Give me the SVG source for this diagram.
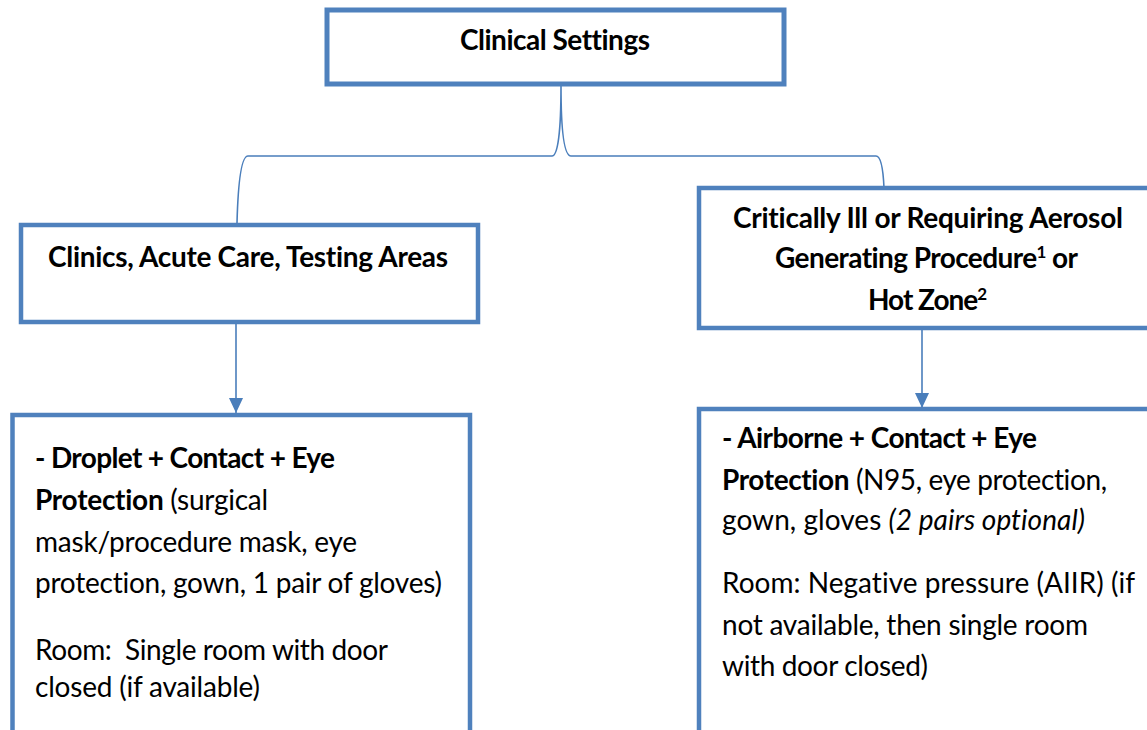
<svg xmlns="http://www.w3.org/2000/svg" width="1147" height="730" viewBox="0 0 1147 730">
<style>
  .box { fill: #ffffff; stroke: #4F81BD; stroke-width: 4.5; }
  .conn { fill: none; stroke: #4A7EBB; stroke-width: 1.6; }
  text { font-family: Lato, "Open Sans", "Liberation Sans", sans-serif; font-size: 28px; fill: #000000; font-variant-ligatures: none; }
  .b { font-weight: bold; }
  .i { font-style: italic; }
  .sup { font-size: 17px; }
</style>
<defs>
  <marker id="arrow" markerUnits="userSpaceOnUse" markerWidth="16" markerHeight="14" refX="15" refY="7" orient="auto">
    <path d="M0,0 L15,7 L0,14 Z" fill="#4A7EBB"/>
  </marker>
</defs>
<rect width="1147" height="730" fill="#ffffff"/>

<g id="connectors">
  <path class="conn" d="M237,223 C238,185 241,156 248,156 H552 C558,156 561,130 561,86 C561,130 564,156 571,156 H876 C880,156 883,165 884,188"/>
  <line class="conn" x1="236" y1="324" x2="236" y2="413" marker-end="url(#arrow)"/>
  <line class="conn" x1="922" y1="330" x2="922" y2="408" marker-end="url(#arrow)"/>
</g>

<g id="clinical-settings">
  <rect class="box" x="327" y="10" width="457" height="74" style="stroke-width:5"/>
  <text class="b" x="460" y="50" textLength="190">Clinical Settings</text>
</g>

<g id="clinics">
  <rect class="box" x="21" y="225" width="457" height="97"/>
  <text class="b" x="48" y="267" textLength="400">Clinics, Acute Care, Testing Areas</text>
</g>

<g id="critically-ill">
  <rect class="box" x="699" y="188" width="470" height="140"/>
  <text class="b" x="733" y="228" textLength="390">Critically Ill or Requiring Aerosol</text>
  <text class="b" x="775" y="268" textLength="303">Generating Procedure<tspan class="sup" dy="-10">1</tspan><tspan dy="10"> or</tspan></text>
  <text class="b" x="868" y="310" textLength="119">Hot Zone<tspan class="sup" dy="-10">2</tspan></text>
</g>

<g id="droplet">
  <rect class="box" x="12.5" y="415" width="457.5" height="400"/>
  <text class="b" x="35" y="468" textLength="300">- Droplet + Contact + Eye</text>
  <text x="35" y="510" textLength="233"><tspan class="b">Protection</tspan> (surgical</text>
  <text x="35" y="552" textLength="322">mask/procedure mask, eye</text>
  <text x="35" y="593" textLength="407">protection, gown, 1 pair of gloves)</text>
  <text x="35" y="660" textLength="353" xml:space="preserve" style="white-space:pre">Room:  Single room with door</text>
  <text x="35" y="697" textLength="225">closed (if available)</text>
</g>

<g id="airborne">
  <rect class="box" x="699" y="409" width="470" height="400"/>
  <text class="b" x="722" y="448" textLength="315">- Airborne + Contact + Eye</text>
  <text x="722" y="490" textLength="385"><tspan class="b">Protection</tspan> (N95, eye protection,</text>
  <text x="722" y="530" textLength="363">gown, gloves <tspan class="i">(2 pairs optional)</tspan></text>
  <text x="722" y="593" textLength="413">Room: Negative pressure (AIIR) (if</text>
  <text x="722" y="635" textLength="366">not available, then single room</text>
  <text x="722" y="676" textLength="206">with door closed)</text>
</g>
</svg>
